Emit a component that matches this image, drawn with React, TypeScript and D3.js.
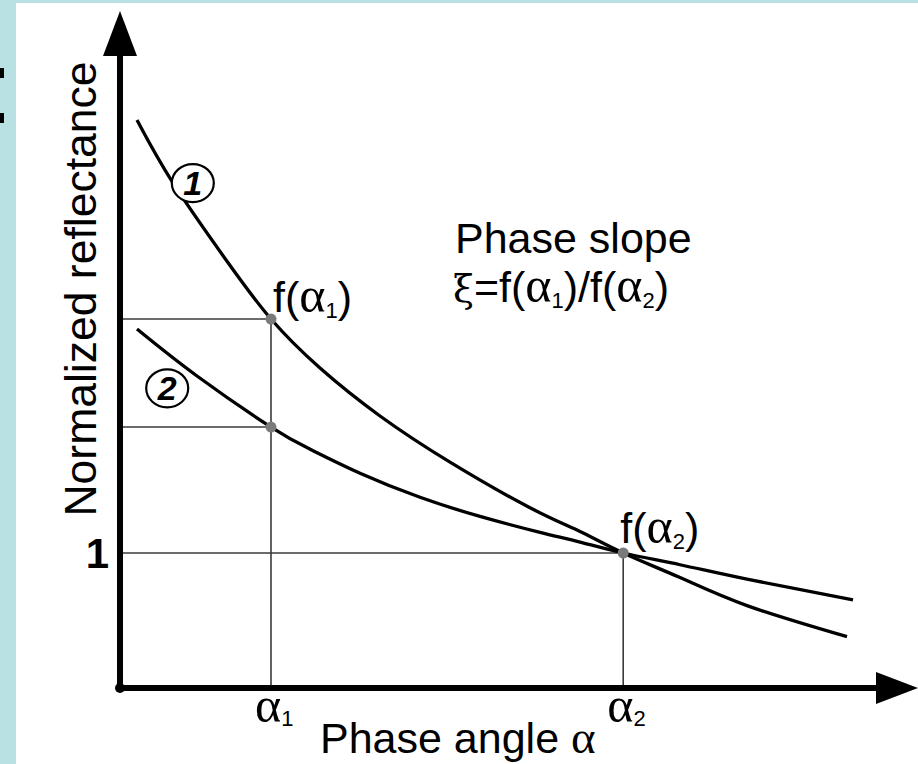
import React from "react";
import * as d3 from "d3";

// ---- data (x: phase angle in arbitrary units 0..100, y: normalized reflectance) ----
const curve1X = [2.125, 6.625, 13.375, 18.875, 25, 32.5, 41.25, 51.25, 57.5, 62.9, 70, 78.375, 90.875];
const curve1Y = [4.207, 3.741, 3.161, 2.733, 2.37, 2.015, 1.673, 1.335, 1.159, 1.0, 0.818, 0.61, 0.38];
const curve2X = [2.125, 9.625, 18.875, 23.75, 30, 37.5, 45, 52.5, 57.5, 62.9, 70, 78.375, 91.625];
const curve2Y = [2.659, 2.311, 1.933, 1.769, 1.591, 1.413, 1.271, 1.153, 1.081, 1.0, 0.913, 0.806, 0.653];
const alphaValues = [18.875, 62.9];
const alphaLabels = ["1", "2"];
const yTickValues = [1];
const yTickLabels = ["1"];
const curveLabels = ["1", "2"];
const curveLabelX = [9.1, 5.9];
const curveLabelY = [3.74, 2.22];

const W = 918;
const H = 764;

export default function App() {
  const x = d3.scaleLinear().domain([0, 100]).range([120, 920]);
  const y = d3.scaleLinear().domain([0, 5]).range([688, 13]);
  const line = d3
    .line<[number, number]>()
    .x((d) => x(d[0]))
    .y((d) => y(d[1]))
    .curve(d3.curveNatural);

  const c1: [number, number][] = curve1X.map((v, i) => [v, curve1Y[i]]);
  const c2: [number, number][] = curve2X.map((v, i) => [v, curve2Y[i]]);
  const at = (xs: number[], ys: number[], v: number) => ys[xs.indexOf(v)];
  const f1a1 = at(curve1X, curve1Y, alphaValues[0]);
  const f2a1 = at(curve2X, curve2Y, alphaValues[0]);
  const fa2 = at(curve1X, curve1Y, alphaValues[1]);

  const x0 = x(0);
  const y0 = y(0);
  const sans = "'Liberation Sans', Arial, sans-serif";
  const serif = "'Liberation Serif', 'Times New Roman', serif";
  const thin = "#3a3a3a";
  const dot = "#7a7a7a";
  const fs = 43;
  const gfs = 50;
  const sub = 22;

  return (
    <svg width={W} height={H} style={{ position: "absolute", left: 0, top: 0 }}>
      <rect x={0} y={0} width={W} height={H} fill="#b9e1e4" />
      <rect x={16} y={3} width={W - 16} height={H - 3} fill="#ffffff" />
      <rect x={0} y={68} width={4} height={10} fill="#000" />
      <rect x={0} y={113} width={4} height={10} fill="#000" />

      {/* guide lines */}
      <g stroke={thin} strokeWidth={1.6} fill="none">
        <line x1={x0} x2={x(alphaValues[0])} y1={y(f1a1)} y2={y(f1a1)} />
        <line x1={x0} x2={x(alphaValues[0])} y1={y(f2a1)} y2={y(f2a1)} />
        <line x1={x0} x2={x(alphaValues[1])} y1={y(fa2)} y2={y(fa2)} />
        <line x1={x(alphaValues[0])} x2={x(alphaValues[0])} y1={y(f1a1)} y2={y0} />
        <line x1={x(alphaValues[1])} x2={x(alphaValues[1])} y1={y(fa2)} y2={y0} />
      </g>

      {/* curves */}
      <path d={line(c1) || ""} fill="none" stroke="#000" strokeWidth={3.3} />
      <path d={line(c2) || ""} fill="none" stroke="#000" strokeWidth={3.3} />

      {/* points */}
      <circle cx={x(alphaValues[0])} cy={y(f1a1)} r={5.5} fill={dot} />
      <circle cx={x(alphaValues[0])} cy={y(f2a1)} r={5.5} fill={dot} />
      <circle cx={x(alphaValues[1])} cy={y(fa2)} r={5.5} fill={dot} />

      {/* axes */}
      <line x1={x0} x2={x0} y1={y0} y2={56} stroke="#000" strokeWidth={6} />
      <polygon points={`${x0},${y(5) - 2} ${x0 - 17},56 ${x0 + 17},56`} fill="#000" />
      <line x1={x0} x2={876} y1={y0} y2={y0} stroke="#000" strokeWidth={6} />
      <polygon points={`${W},${y0} 876,${y0 - 16} 876,${y0 + 16}`} fill="#000" />
      <circle cx={x0} cy={y0} r={5} fill="#000" />

      {/* y tick */}
      {yTickValues.map((v, i) => (
        <text key={i} x={x0 - 11} y={y(v) + 15} textAnchor="end" fontFamily={sans} fontWeight="bold" fontSize={42}>
          {yTickLabels[i]}
        </text>
      ))}

      {/* x ticks alpha1, alpha2 */}
      {alphaValues.map((v, i) => (
        <text key={i} x={x(v) - 16} y={722} fontFamily={serif} fontSize={gfs}>
          α<tspan fontFamily={sans} fontSize={sub} dy={4}>{alphaLabels[i]}</tspan>
        </text>
      ))}

      {/* axis titles */}
      <text x={320} y={753} fontFamily={sans} fontSize={fs}>
        Phase angle <tspan fontFamily={serif} fontSize={47}>α</tspan>
      </text>
      <text
        transform={`translate(96, 289) rotate(-90)`}
        textAnchor="middle"
        fontFamily={sans}
        fontSize={44.5}
      >
        Normalized reflectance
      </text>

      {/* annotations */}
      <text x={x(alphaValues[0]) + 2} y={y(f1a1) - 7} fontFamily={sans} fontSize={fs}>
        f(<tspan fontFamily={serif} fontSize={gfs}>α</tspan>
        <tspan fontSize={sub} dy={6}>1</tspan>
        <tspan dy={-6}>)</tspan>
      </text>
      <text x={x(alphaValues[1]) - 3} y={y(fa2) - 10} fontFamily={sans} fontSize={fs}>
        f(<tspan fontFamily={serif} fontSize={gfs}>α</tspan>
        <tspan fontSize={sub} dy={6}>2</tspan>
        <tspan dy={-6}>)</tspan>
      </text>
      <text x={455} y={253} fontFamily={sans} fontSize={fs}>
        Phase slope
      </text>
      <text x={453} y={302} fontFamily={sans} fontSize={fs}>
        <tspan fontFamily="'DejaVu Serif', serif" fontSize={38}>ξ</tspan>=f(<tspan fontFamily={serif} fontSize={gfs}>α</tspan>
        <tspan fontSize={sub} dy={6}>1</tspan>
        <tspan dy={-6}>)/f(</tspan>
        <tspan fontFamily={serif} fontSize={gfs}>α</tspan>
        <tspan fontSize={sub} dy={6}>2</tspan>
        <tspan dy={-6}>)</tspan>
      </text>

      {/* circled curve labels */}
      {curveLabels.map((l, i) => (
        <g key={i} transform={`translate(${x(curveLabelX[i])}, ${y(curveLabelY[i])})`}>
          <ellipse rx={21} ry={19} fill="#fff" stroke="#000" strokeWidth={2.2} />
          <text y={12} textAnchor="middle" fontFamily={sans} fontWeight="bold" fontStyle="italic" fontSize={34}>
            {l}
          </text>
        </g>
      ))}
    </svg>
  );
}
